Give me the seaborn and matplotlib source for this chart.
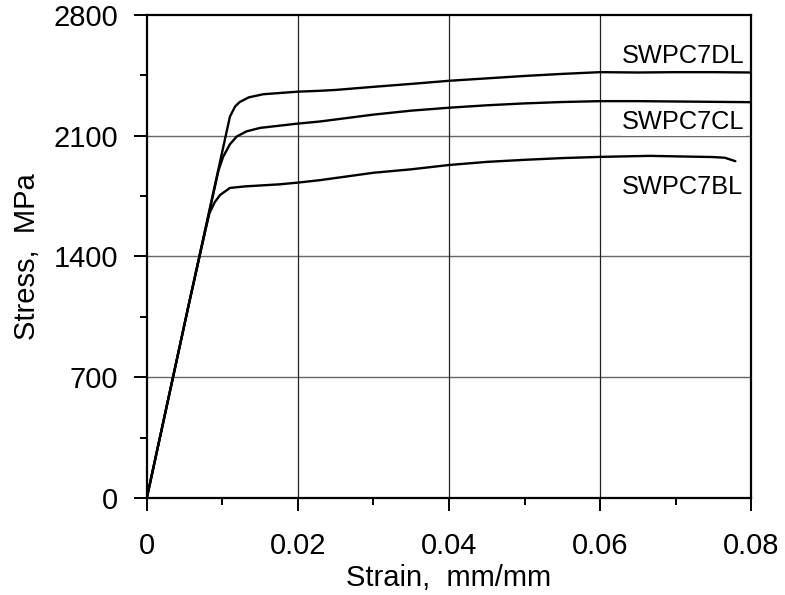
import numpy as np
import pandas as pd
import seaborn as sns
import matplotlib
matplotlib.use("Agg")
import matplotlib.pyplot as plt
from matplotlib.ticker import MultipleLocator

# ---- data ----
strain_dl = [0, 0.0055, 0.0110, 0.0117, 0.0123, 0.0135, 0.0154, 0.0200, 0.0229, 0.0250,
             0.0300, 0.0350, 0.0400, 0.0450, 0.0500, 0.0550, 0.0600, 0.0650, 0.0700,
             0.0750, 0.0800]
stress_dl = [0, 1110, 2210, 2270, 2295, 2322, 2340, 2355, 2360, 2365,
             2383, 2400, 2418, 2432, 2446, 2458, 2468, 2466, 2468,
             2468, 2466]

strain_cl = [0, 0.0055, 0.0095, 0.0101, 0.0110, 0.0119, 0.0132, 0.0150, 0.0200, 0.0229,
             0.0300, 0.0350, 0.0400, 0.0450, 0.0500, 0.0550, 0.0600, 0.0650, 0.0700,
             0.0750, 0.0800]
stress_cl = [0, 1110, 1900, 1977, 2050, 2095, 2125, 2145, 2170, 2182,
             2222, 2245, 2262, 2276, 2287, 2295, 2300, 2300, 2298,
             2296, 2294]

strain_bl = [0, 0.0055, 0.0078, 0.0083, 0.0090, 0.0097, 0.0110, 0.0130, 0.0176, 0.0200,
             0.0229, 0.0300, 0.0350, 0.0400, 0.0450, 0.0500, 0.0550, 0.0600, 0.0666,
             0.0700, 0.0750, 0.0765, 0.0779]
stress_bl = [0, 1110, 1560, 1652, 1715, 1756, 1797, 1806, 1818, 1828,
             1842, 1885, 1905, 1930, 1948, 1960, 1970, 1977, 1983,
             1980, 1976, 1972, 1952]

series_names = ["SWPC7DL", "SWPC7CL", "SWPC7BL"]
label_x = [0.0629, 0.0629, 0.0629]
label_y = [2562, 2177, 1800]

x_ticks = [0, 0.02, 0.04, 0.06, 0.08]
x_tick_labels = ["0", "0.02", "0.04", "0.06", "0.08"]
y_ticks = [0, 700, 1400, 2100, 2800]
y_tick_labels = ["0", "700", "1400", "2100", "2800"]

frames = []
for name, xs, ys in zip(series_names,
                        [strain_dl, strain_cl, strain_bl],
                        [stress_dl, stress_cl, stress_bl]):
    frames.append(pd.DataFrame({"strain": xs, "stress": ys, "series": name}))
df = pd.concat(frames, ignore_index=True)

sns.set_theme(style="white")
plt.rcParams["font.family"] = ["Liberation Sans", "DejaVu Sans"]
plt.rcParams["text.color"] = "black"
plt.rcParams["axes.labelcolor"] = "black"

fig = plt.figure(figsize=(7.85, 5.95), dpi=100)
ax = fig.add_axes([0.187, 0.163, 0.770, 0.812])

ax.grid(False)
for yv in y_ticks[1:-1]:
    ax.axhline(yv, color="#666666", lw=1.0, zorder=1)
for xv in x_ticks[1:-1]:
    ax.axvline(xv, color="#222222", lw=0.9, zorder=1)

sns.lineplot(data=df, x="strain", y="stress", units="series", estimator=None,
             sort=False, color="black", lw=1.7, ax=ax, zorder=3, legend=False)

for name, lx, ly in zip(series_names, label_x, label_y):
    ax.text(lx, ly, name, ha="left", va="center", fontsize=18.3, zorder=4,
            color="black", bbox=dict(fc="white", ec="none", pad=1.0))

ax.set_xlim(0, 0.08)
ax.set_ylim(0, 2800)
ax.set_xticks(x_ticks)
ax.set_xticklabels(x_tick_labels)
ax.set_yticks(y_ticks)
ax.set_yticklabels(y_tick_labels)
ax.xaxis.set_minor_locator(MultipleLocator(0.01))
ax.yaxis.set_minor_locator(MultipleLocator(350))
ax.tick_params(which="major", direction="out", length=9.4, width=1.4, color="black",
               labelsize=21, labelcolor="black", bottom=True, left=True)
ax.tick_params(axis="x", which="major", pad=15)
ax.tick_params(axis="y", which="major", pad=11)
ax.tick_params(which="minor", direction="out", length=5, width=1.4, color="black",
               bottom=True, left=True)
for s in ax.spines.values():
    s.set_color("black")
    s.set_linewidth(1.6)
    s.set_visible(True)

ax.set_xlabel("Strain,  mm/mm", fontsize=21, color="black", labelpad=3)
ax.set_ylabel("Stress,  MPa", fontsize=21, color="black", labelpad=9)

fig.savefig("out.png", dpi=100, facecolor="white")
